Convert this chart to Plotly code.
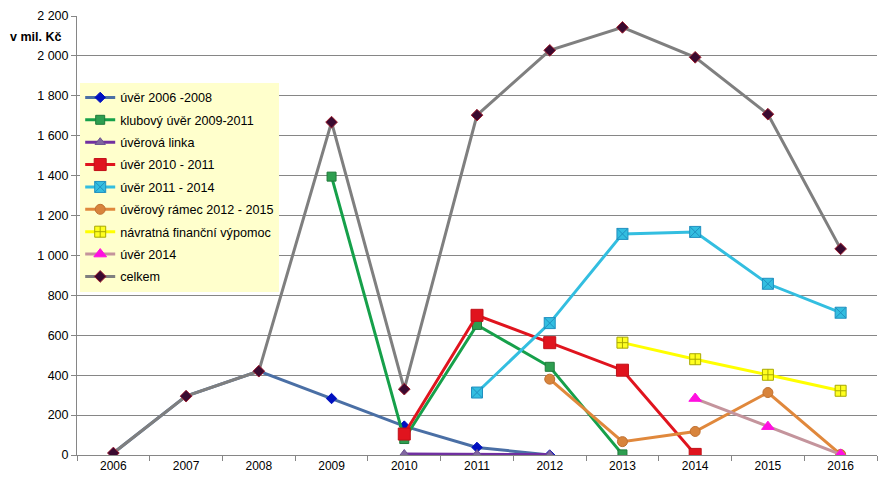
import plotly.graph_objects as go

years = ["2006", "2007", "2008", "2009", "2010", "2011", "2012", "2013", "2014", "2015", "2016"]
N = None
uver_2006_2008 = [10, 295, 420, 283, 145, 38, 0, N, N, N, N]
klubovy_2009_2011 = [N, N, N, 1395, 80, 652, 442, 3, N, N, N]
uverova_linka = [N, N, N, N, 5, 5, 2, N, N, N, N]
uver_2010_2011 = [N, N, N, N, 105, 700, 563, 425, 3, N, N]
uver_2011_2014 = [N, N, N, N, N, 313, 661, 1108, 1118, 858, 713]
ramec_2012_2015 = [N, N, N, N, N, N, 380, 67, 118, 313, 3]
navratna = [N, N, N, N, N, N, N, 563, 480, 402, 322]
uver_2014 = [N, N, N, N, N, N, N, N, 283, 142, 3]
celkem = [10, 295, 420, 1668, 330, 1703, 2028, 2143, 1993, 1708, 1033]

y_ticks = [0, 200, 400, 600, 800, 1000, 1200, 1400, 1600, 1800, 2000, 2200]
y_ticktext = ["0", "200", "400", "600", "800", "1 000", "1 200", "1 400", "1 600", "1 800", "2 000", "2 200"]

series = [
    ("úvěr 2006 -2008", uver_2006_2008, "#4A6FA5", "diamond", 8, "#0010C0", "#0010C0"),
    ("klubový úvěr 2009-2011", klubovy_2009_2011, "#16A04A", "square", 9, "#2E9E50", "#1F7A3A"),
    ("úvěrová linka", uverova_linka, "#7030A0", "triangle-up", 9, "#8066A0", "#6A5090"),
    ("úvěr 2010 - 2011", uver_2010_2011, "#E0141E", "square", 12, "#E0141E", "#C01018"),
    ("úvěr 2011 - 2014", uver_2011_2014, "#33BEE0", "square-x", 11, "#33BEE0", "#2090C0"),
    ("úvěrový rámec 2012 - 2015", ramec_2012_2015, "#E0883C", "circle", 10, "#D8843C", "#C07030"),
    ("návratná finanční výpomoc", navratna, "#FFFF00", "square-cross", 11, "#FFFF20", "#A8A800"),
    ("úvěr 2014", uver_2014, "#C4949C", "triangle-up", 11, "#FF10E0", "#FF10E0"),
    ("celkem", celkem, "#7F7F7F", "diamond", 9, "#3A0A30", "#A02030"),
]

fig = go.Figure()
for i, (name, vals, lc, sym, ms, mc, mlc) in enumerate(series):
    fig.add_trace(go.Scatter(
        x=years, y=vals, name=name, mode="lines+markers",
        line=dict(color=lc, width=3),
        marker=dict(symbol=sym, size=ms, color=mc, line=dict(color=mlc, width=1)),
        legendgroup=str(i),
    ))

fig.update_layout(
    width=886, height=482,
    margin=dict(l=77, r=9, t=16, b=27),
    paper_bgcolor="white", plot_bgcolor="white",
    font=dict(family="Liberation Sans, Arial, sans-serif", size=12, color="black"),
    showlegend=True,
    legend=dict(
        x=0.004, y=0.848, xanchor="left", yanchor="top",
        bgcolor="#FFFFCC", borderwidth=0,
        font=dict(size=12.6), tracegroupgap=3, traceorder="grouped",
        itemwidth=30,
    ),
    xaxis=dict(
        type="category", range=[-0.5, 10.5],
        showline=True, linecolor="#868686", linewidth=1,
        ticks="outside", ticklen=5, tickcolor="#868686", tickson="boundaries",
        showgrid=False, tickfont=dict(size=12),
    ),
    yaxis=dict(
        range=[0, 2200], tickvals=y_ticks, ticktext=y_ticktext,
        showline=True, linecolor="#868686", linewidth=1,
        ticks="outside", ticklen=5, tickcolor="#868686",
        showgrid=True, gridcolor="#868686", gridwidth=1,
        zeroline=False, tickfont=dict(size=12.5),
    ),
    annotations=[dict(
        text="<b>v mil. Kč</b>", xref="paper", yref="paper",
        x=-0.017, y=(455 - 37) / 439, xanchor="right", yanchor="middle",
        showarrow=False, font=dict(size=12.5),
    )],
)

fig.write_html("out.html", config={"displayModeBar": False},
               post_script="document.body.style.margin='0';")
